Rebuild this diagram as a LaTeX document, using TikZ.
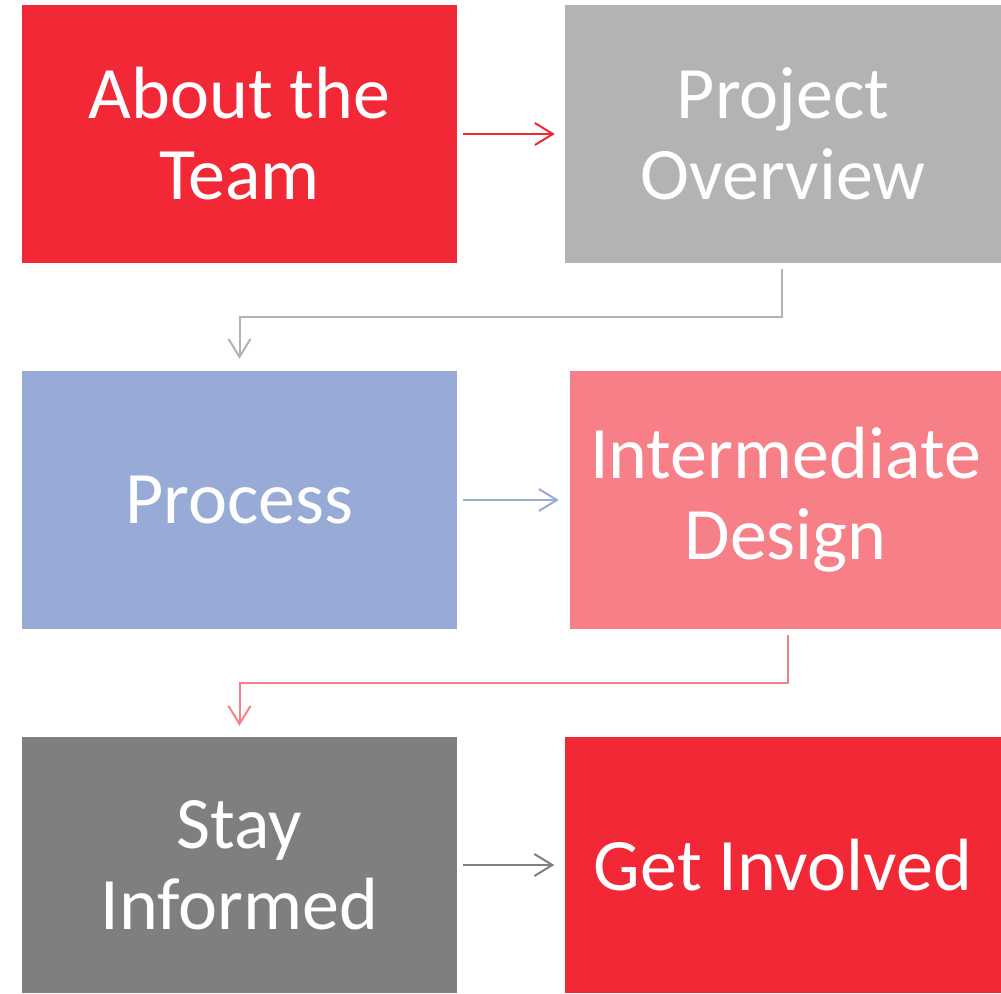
\documentclass[tikz,border=0pt]{standalone}
\usepackage{fontspec}
\setmainfont{Carlito}
\usepackage{tikz}
\usetikzlibrary{arrows.meta, positioning, calc}
\definecolor{teamred}{HTML}{F22837}
\definecolor{lightgray}{HTML}{B3B3B3}
\definecolor{softblue}{HTML}{97ABD6}
\definecolor{softpink}{HTML}{F77F88}
\definecolor{darkgray}{HTML}{7F7F7F}
\tikzset{
  stage/.style={rectangle, draw=none, fill=#1, text=white,
    font=\fontsize{74}{81}\selectfont, minimum width=435pt, minimum height=258pt,
    align=center, inner sep=0pt},
  link/.style={-{Straight Barb[length=18pt, width=22pt, line width=2pt]}, draw=#1,
    line width=2pt, shorten <=6pt},
}
\begin{document}
\begin{tikzpicture}[x=1pt, y=-1pt]
  \useasboundingbox (0,0) rectangle (1001,993);
  % stages
  \node[stage=teamred] (team) at (239.5,134) {About the\\Team};
  \node[stage=lightgray, minimum width=436pt] (proj) at (783,134) {Project\\Overview};
  \node[stage=softblue] (proc) at (239.5,500) {Process};
  \node[stage=softpink, minimum width=431pt] (ides) at (785.5,500) {Intermediate\\Design};
  \node[stage=darkgray, minimum height=256pt] (stay) at (239.5,865) {Stay\\Informed};
  \node[stage=teamred, minimum width=437pt, minimum height=256pt] (invo) at (783,865) {Get Involved};
  % bends
  \coordinate (k1) at ($(proj.south)!.5!(proc.north)$);
  \coordinate (k2) at ($(ides.south)!.5!(stay.north)$);
  % links
  \draw[link=teamred, shorten >=10pt] (team.east) -- (proj.west);
  \draw[link=lightgray, shorten >=12pt] ([xshift=-1pt]proj.south) |- (k1) -| (proc.north);
  \draw[link=softblue, shorten >=11pt] (proc.east) -- (proc.east -| ides.west);
  \draw[link=softpink, shorten >=11pt] ([xshift=2.5pt]ides.south) |- (k2) -| (stay.north);
  \draw[link=darkgray, shorten >=10pt] (stay.east) -- (invo.west);
\end{tikzpicture}
\end{document}
